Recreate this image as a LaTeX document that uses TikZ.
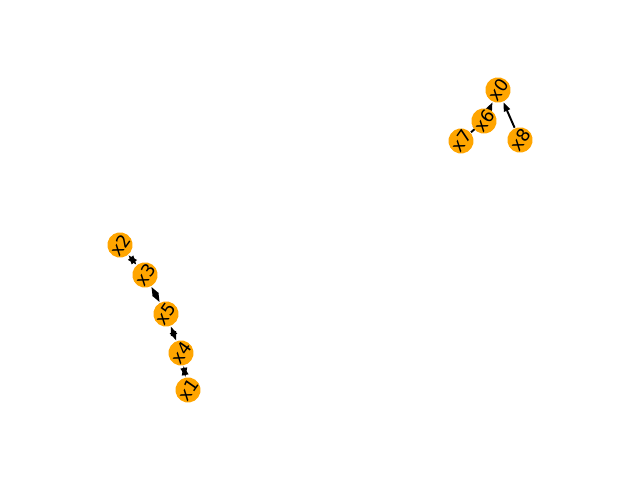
\documentclass[tikz,border=0pt]{standalone}
\usepackage{fontspec}
\setmainfont{DejaVu Sans}
\usetikzlibrary{arrows.meta,backgrounds}

\definecolor{nodeorange}{HTML}{FFA500}

\tikzset{
  vtx/.style={circle,fill=nodeorange,inner sep=0pt,minimum size=0.25cm,
    rotate=55,font=\fontsize{5}{6}\selectfont},
  edge/.style={black,line width=0.55pt,-{Triangle[length=2.6pt,width=1.8pt]}},
  twoway/.style={black,line width=0.55pt,{Triangle[length=2.6pt,width=1.8pt]}-{Triangle[length=2.6pt,width=1.8pt]}}
}

\begin{document}
\begin{tikzpicture}
\useasboundingbox (0,0) rectangle (6.4,4.8);

% right component
\node[vtx] (x0) at (4.98,3.90) {x0};
\node[vtx] (x6) at (4.84,3.59) {x6};
\node[vtx] (x7) at (4.61,3.39) {x7};
\node[vtx] (x8) at (5.20,3.40) {x8};

% left component
\node[vtx] (x2) at (1.20,2.35) {x2};
\node[vtx] (x3) at (1.45,2.05) {x3};
\node[vtx] (x5) at (1.66,1.66) {x5};
\node[vtx] (x4) at (1.81,1.27) {x4};
\node[vtx] (x1) at (1.88,0.90) {x1};

\begin{pgfonlayer}{background}
\draw[edge] (x6) -- (x0);
\draw[edge] (x8) -- (x0);
\draw[edge,shorten >=-3pt] (x7) -- (x6);

\draw[twoway] (x2) -- (x3);
\draw[twoway] (x3) -- (x5);
\draw[twoway] (x5) -- (x4);
\draw[twoway] (x4) -- (x1);
\end{pgfonlayer}
\end{tikzpicture}
\end{document}
